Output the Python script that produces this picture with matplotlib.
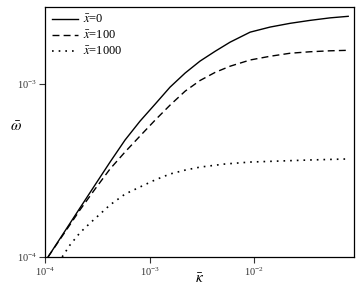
import matplotlib
matplotlib.use('Agg')
from matplotlib import pyplot as plt
from matplotlib.ticker import LogLocator, NullLocator

plt.rcParams['font.family'] = ['Liberation Serif', 'DejaVu Serif']
plt.rcParams['mathtext.fontset'] = 'stix'

# kappa-bar values and omega-bar for each x-bar
kappa_0 = [1.07e-4, 1.55e-4, 2.16e-4, 3.01e-4, 4.19e-4, 5.83e-4, 8.11e-4,
           1.13e-3, 1.57e-3, 2.19e-3, 3.04e-3, 4.24e-3, 5.89e-3, 9.16e-3,
           1.42e-2, 2.21e-2, 3.43e-2, 5.34e-2, 7.94e-2]
omega_0 = [1.00e-4, 1.41e-4, 1.92e-4, 2.61e-4, 3.54e-4, 4.75e-4, 6.11e-4,
           7.66e-4, 9.61e-4, 1.16e-3, 1.36e-3, 1.55e-3, 1.75e-3, 2.00e-3,
           2.14e-3, 2.25e-3, 2.34e-3, 2.42e-3, 2.47e-3]

kappa_100 = kappa_0
omega_100 = [1.00e-4, 1.39e-4, 1.87e-4, 2.47e-4, 3.23e-4, 4.05e-4, 5.01e-4,
             6.19e-4, 7.56e-4, 9.11e-4, 1.05e-3, 1.17e-3, 1.27e-3, 1.38e-3,
             1.45e-3, 1.51e-3, 1.54e-3, 1.56e-3, 1.57e-3]

kappa_1000 = [1.46e-4, 1.73e-4, 2.16e-4, 2.70e-4, 3.36e-4, 4.19e-4, 5.83e-4,
              8.11e-4, 1.13e-3, 1.57e-3, 2.19e-3, 3.04e-3, 5.28e-3, 9.16e-3,
              1.77e-2, 3.43e-2, 7.94e-2]
omega_1000 = [1.00e-4, 1.17e-4, 1.38e-4, 1.57e-4, 1.77e-4, 2.00e-4, 2.31e-4,
              2.54e-4, 2.79e-4, 3.02e-4, 3.18e-4, 3.31e-4, 3.45e-4, 3.54e-4,
              3.59e-4, 3.64e-4, 3.69e-4]

fig = plt.figure(figsize=(3.6, 2.88), dpi=100)
ax = fig.add_axes([0.125, 0.108, 0.858, 0.868])

ax.plot(kappa_0, omega_0, color='black', lw=1.0, ls='-', label=r'$\bar{x}$=0')
ax.plot(kappa_100, omega_100, color='black', lw=1.0, ls=(0, (5, 3)), label=r'$\bar{x}$=100')
ax.plot(kappa_1000, omega_1000, color='black', lw=1.2, ls=(0, (1, 3)), label=r'$\bar{x}$=1000')

ax.set_xscale('log')
ax.set_yscale('log')
ax.set_xlim(1e-4, 0.09)
ax.set_ylim(1e-4, 2.8e-3)
ax.xaxis.set_major_locator(LogLocator(base=10, numticks=10))
ax.xaxis.set_minor_locator(NullLocator())
ax.yaxis.set_minor_locator(NullLocator())
ax.tick_params(which='major', direction='out', length=4, width=0.8,
               labelsize=7.5, pad=2, colors='#333333')

ax.set_xlabel(r'$\bar{\kappa}$', fontsize=11, labelpad=-4)
ax.set_ylabel(r'$\bar{\omega}$', fontsize=11, rotation=0, va='center')
ax.yaxis.set_label_coords(-0.095, 0.52)

for s in ax.spines.values():
    s.set_linewidth(0.9)

ax.legend(loc='upper left', frameon=False, fontsize=9, handlelength=2.1,
          borderaxespad=0.15, labelspacing=0.3, handletextpad=0.4)

plt.savefig('out.png', dpi=100)
